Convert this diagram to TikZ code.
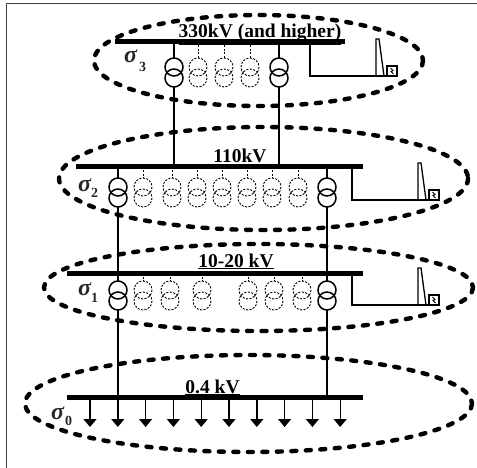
\documentclass[tikz,border=0pt]{standalone}
\usepackage{fontspec}
\setmainfont{Liberation Serif}
\usetikzlibrary{arrows.meta}
\tikzset{
	frame/.style={line width=1pt, color=black!75},
	zone/.style={line width=4.4pt, line cap=round, dash pattern=on 5pt off 9.5pt},
	bus/.style={line width=5pt},
	trafo/.style={line width=1.5pt},
	trafodash/.style={line width=0.9pt, dash pattern=on 2pt off 1.5pt},
	feeder/.style={line width=1.3pt},
	load/.style={line width=1.4pt, -{Triangle[width=13pt,length=8pt]}},
	lab/.style={inner sep=0pt, font=\fontsize{19.5}{20}\selectfont\bfseries},
	sig/.style={inner sep=0pt, color=black!85, font=\fontsize{24}{24}\selectfont\bfseries\itshape},
}
\newcommand{\subfont}{\fontsize{14}{14}\selectfont\upshape}
\def\trafo[#1](#2,#3){\draw[#1] (#2,#3) circle (9); \draw[#1] (#2,#3+11) circle (9);}
\def\plant(#1,#2)(#3){%
	\draw[feeder] (#1,#2) -- (#1,#3) -- (#1+88,#3);
	\draw[feeder] (#1+66,#3) -- (#1+66,#3-37) -- (#1+69,#3-37) -- (#1+74,#3);
	\draw[feeder] (#1+77,#3) rectangle (#1+87,#3-10);
	\draw[line width=1pt] (#1+80.5,#3-8) -- (#1+83,#3-5.5) -- (#1+81,#3-4.5) -- (#1+83.5,#3-2);
}

\begin{document}
\begin{tikzpicture}[x=1pt, y=-1pt]
	%%%%% START %%%%%
	\useasboundingbox (0,0) rectangle (477,468);
	\draw[frame] (6,468) -- (6,4) -- (477,4);
	
	% voltage levels
	\draw[zone] (258.5,60.5) ellipse [x radius=164.5, y radius=45.5];
	\draw[zone] (263.5,178.5) ellipse [x radius=204.5, y radius=51.5];
	\draw[zone] (258.5,287.5) ellipse [x radius=214.5, y radius=43.5];
	\draw[zone] (248.5,403.5) ellipse [x radius=223.5, y radius=48.5];
	
	% busbars
	\draw[bus] (115,42) -- (345,42);
	\draw[bus] (76,167) -- (363,167);
	\draw[bus] (67,273) -- (363,273);
	\draw[bus] (67,397) -- (363,397);
	
	\node[lab, anchor=base] (l3) at (260,38) {\underline{330kV (and higher)}};
	\node[lab, anchor=base] (l2) at (240,163) {\underline{110kV}};
	\node[lab, anchor=base] (l1) at (236,267) {\underline{10-20 kV}};
	\node[lab, anchor=base] (l0) at (212.5,393) {\underline{0.4 kV}};
	
	% 330kV
	\foreach \x in {174,279} {
		\trafo[trafo](\x,67)
		\draw[trafo] (\x,42) -- (\x,58);
		\draw[trafo] (\x,87) -- (\x,167);
	}
	\foreach \x in {198,224,250} {
		\trafo[trafodash](\x,67)
		\draw[trafodash] (\x,42) -- (\x,58);
	}
	\plant(310,42)(76)
	
	% 110kV
	\foreach \x in {118,327} {
		\trafo[trafo](\x,187)
		\draw[trafo] (\x,167) -- (\x,178);
		\draw[trafo] (\x,207) -- (\x,273);
	}
	\foreach \x in {143,172,197,222,247,272,298} {
		\trafo[trafodash](\x,187)
		\draw[trafodash] (\x,167) -- (\x,178);
	}
	\plant(352,167)(200)
	
	% 10-20kV
	\foreach \x in {118,327} {
		\trafo[trafo](\x,290)
		\draw[trafo] (\x,273) -- (\x,281);
		\draw[trafo] (\x,310) -- (\x,397);
	}
	\foreach \x in {143,170,202,248,274,302} {
		\trafo[trafodash](\x,290)
		\draw[trafodash] (\x,273) -- (\x,281);
	}
	\plant(352,273)(305)
	
	% 0.4kV loads
	\foreach \i in {0,...,9}
		\draw[load] (90+27.8*\i,397) -- ++(0,30);
	
	\node[sig, anchor=base west] (s3) at (124,63) {σ\hspace{2pt}\raisebox{-9pt}{\subfont 3}};
	\node[sig, anchor=base west] (s2) at (78,192) {σ\raisebox{-6pt}{\subfont 2}};
	\node[sig, anchor=base west] (s1) at (78,295) {σ\raisebox{-7pt}{\subfont 1}};
	\node[sig, anchor=base west] (s0) at (51,419) {σ\hspace{1pt}\raisebox{-6pt}{\subfont 0}};
	%%%%% END %%%%%
\end{tikzpicture}
\end{document}
